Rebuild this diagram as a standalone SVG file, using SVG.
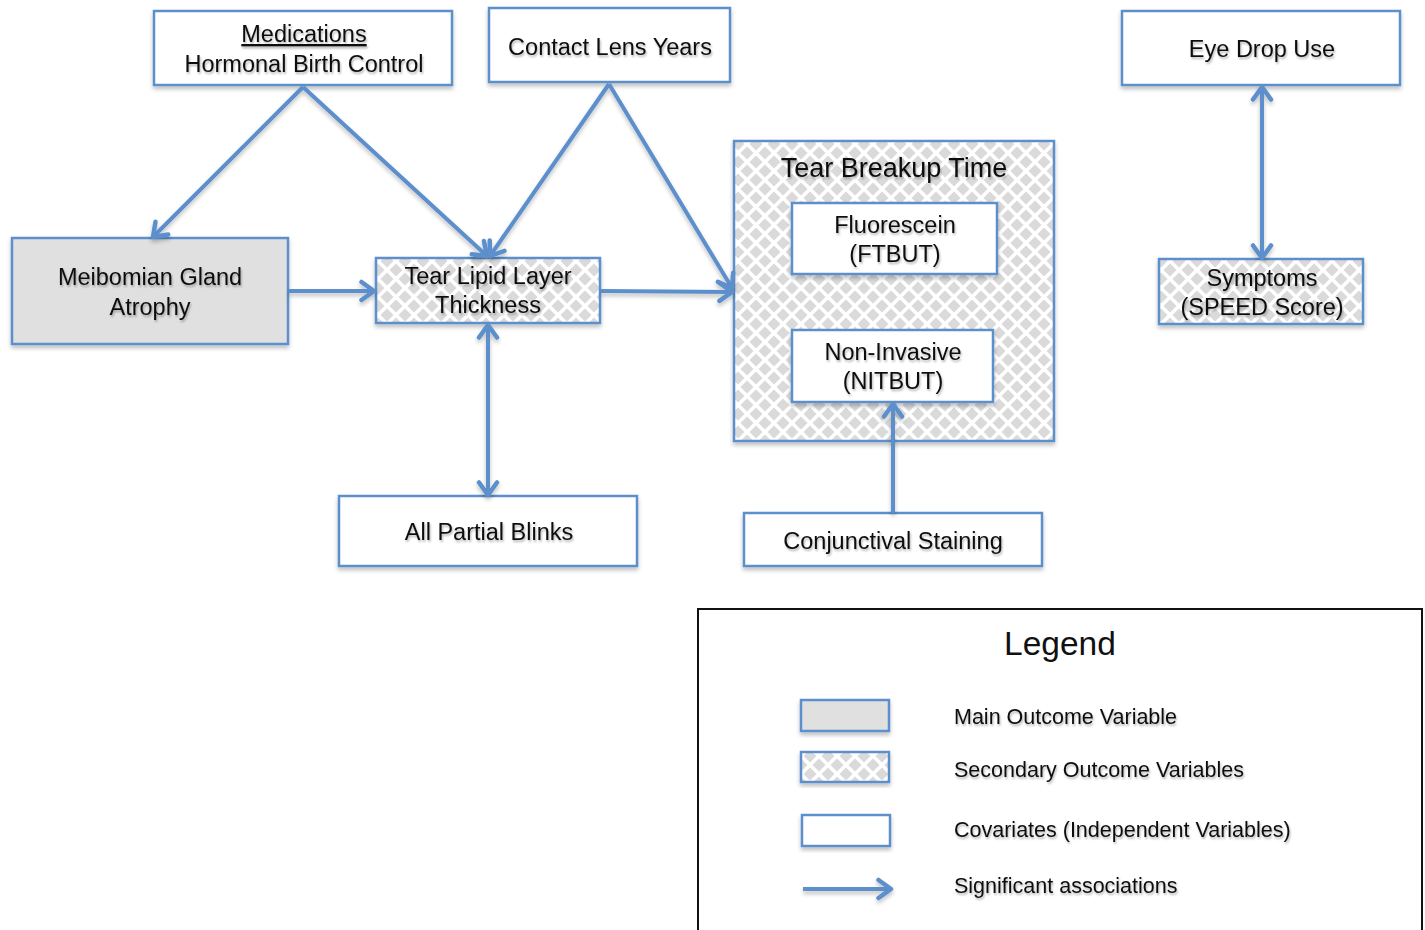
<svg xmlns="http://www.w3.org/2000/svg" width="1425" height="930" viewBox="0 0 1425 930">
<defs>
<pattern id="diam" x="0" y="0" width="18" height="18" patternUnits="userSpaceOnUse">
<rect width="18" height="18" fill="#ffffff"/>
<path d="M9,2.5 L15.5,9 L9,15.5 L2.5,9 Z" fill="#dadada"/>
<path d="M0,-6.5 L6.5,0 L0,6.5 L-6.5,0 Z M18,-6.5 L24.5,0 L18,6.5 L11.5,0 Z M0,11.5 L6.5,18 L0,24.5 L-6.5,18 Z M18,11.5 L24.5,18 L18,24.5 L11.5,18 Z" fill="#dadada"/>
</pattern>
<filter id="sh" x="-10%" y="-10%" width="120%" height="130%">
<feGaussianBlur in="SourceAlpha" stdDeviation="2"/>
<feOffset dx="0" dy="3" result="b"/>
<feComponentTransfer><feFuncA type="linear" slope="0.25"/></feComponentTransfer>
<feMerge><feMergeNode/><feMergeNode in="SourceGraphic"/></feMerge>
</filter>
<filter id="csh" filterUnits="userSpaceOnUse" x="0" y="0" width="1425" height="930">
<feGaussianBlur in="SourceAlpha" stdDeviation="2"/>
<feOffset dx="0" dy="3" result="b"/>
<feComponentTransfer><feFuncA type="linear" slope="0.25"/></feComponentTransfer>
<feMerge><feMergeNode/><feMergeNode in="SourceGraphic"/></feMerge>
</filter>
<filter id="tsh" x="-5%" y="-20%" width="110%" height="150%">
<feGaussianBlur in="SourceAlpha" stdDeviation="1.2"/>
<feOffset dx="1" dy="2" result="b"/>
<feComponentTransfer><feFuncA type="linear" slope="0.3"/></feComponentTransfer>
<feMerge><feMergeNode/><feMergeNode in="SourceGraphic"/></feMerge>
</filter>
<marker id="ah" viewBox="0 0 19 24" refX="16.5" refY="12" markerWidth="19" markerHeight="24" markerUnits="userSpaceOnUse" orient="auto-start-reverse">
<path d="M4,3 L16.5,12 L4,21" fill="none" stroke="#5b8fcb" stroke-width="4.5" stroke-linecap="round" stroke-linejoin="round"/>
</marker>
</defs>
<style>
.box{stroke:#5b8fcb;stroke-width:2.5;filter:url(#sh)}
.w{fill:#ffffff}
.g{fill:#e0e0e0}
.p{fill:url(#diam)}
.t{font-family:"Liberation Sans",Arial,sans-serif;font-size:23.5px;fill:#111;text-anchor:middle;filter:url(#tsh)}
.lt{font-family:"Liberation Sans",Arial,sans-serif;font-size:21.5px;fill:#111;filter:url(#tsh)}
.c{fill:none;stroke:#5b8fcb;stroke-width:4;marker-end:url(#ah)}
.d{marker-start:url(#ah)}
</style>
<rect width="1425" height="930" fill="#ffffff"/>

<g id="medications">
<rect class="box w" x="154" y="11" width="298" height="74"/>
<text class="t" x="304" y="42" text-decoration="underline">Medications</text>
<text class="t" x="304" y="72">Hormonal Birth Control</text>
</g>
<g id="contact-lens">
<rect class="box w" x="489" y="8" width="241" height="74"/>
<text class="t" x="610" y="55">Contact Lens Years</text>
</g>
<g id="eye-drop">
<rect class="box w" x="1122" y="11" width="278" height="74"/>
<text class="t" x="1262" y="57">Eye Drop Use</text>
</g>
<g id="tear-breakup">
<rect class="box p" x="734" y="141" width="320" height="300"/>
<text class="t" x="894" y="177" style="font-size:27px">Tear Breakup Time</text>
</g>
<g id="fluorescein">
<rect class="box w" x="792" y="203" width="205" height="71"/>
<text class="t" x="895" y="233">Fluorescein</text>
<text class="t" x="895" y="262">(FTBUT)</text>
</g>
<g id="non-invasive">
<rect class="box w" x="792" y="330" width="201" height="72"/>
<text class="t" x="893" y="360">Non-Invasive</text>
<text class="t" x="893" y="389">(NITBUT)</text>
</g>
<g id="meibomian">
<rect class="box g" x="12" y="238" width="276" height="106"/>
<text class="t" x="150" y="285">Meibomian Gland</text>
<text class="t" x="150" y="315">Atrophy</text>
</g>
<g id="tear-lipid">
<rect class="box p" x="376" y="258" width="224" height="65"/>
<text class="t" x="488" y="284">Tear Lipid Layer</text>
<text class="t" x="488" y="313">Thickness</text>
</g>
<g id="symptoms">
<rect class="box p" x="1159" y="259" width="204" height="65"/>
<text class="t" x="1262" y="286">Symptoms</text>
<text class="t" x="1262" y="315">(SPEED Score)</text>
</g>
<g id="partial-blinks">
<rect class="box w" x="339" y="496" width="298" height="70"/>
<text class="t" x="489" y="540">All Partial Blinks</text>
</g>
<g id="conjunctival">
<rect class="box w" x="744" y="513" width="298" height="53"/>
<text class="t" x="893" y="549">Conjunctival Staining</text>
</g>

<g id="connectors" filter="url(#csh)">
<line class="c" x1="303" y1="87" x2="153" y2="237"/>
<line class="c" x1="303" y1="87" x2="487" y2="256"/>
<line class="c" x1="609" y1="84" x2="490" y2="256"/>
<line class="c" x1="609" y1="84" x2="732" y2="288"/>
<line class="c" x1="289" y1="291" x2="374" y2="291"/>
<line class="c" x1="601" y1="291" x2="732" y2="292"/>
<line class="c d" x1="488" y1="325" x2="488" y2="495"/>
<line class="c d" x1="1262" y1="87" x2="1262" y2="258"/>
<line class="c" x1="893" y1="513" x2="893" y2="404"/>
</g>

<g id="legend">
<rect x="698" y="609" width="724" height="330" fill="#ffffff" stroke="#111" stroke-width="2"/>
<text x="1060" y="655" style="font-family:'Liberation Sans',Arial,sans-serif;font-size:33.5px;fill:#111;text-anchor:middle">Legend</text>
<rect class="box g" x="801" y="700" width="88" height="31"/>
<rect class="box p" x="801" y="752" width="88" height="30"/>
<rect class="box w" x="802" y="815" width="88" height="31"/>
<line class="c" x1="803" y1="889" x2="891" y2="889" filter="url(#csh)"/>
<text class="lt" x="954" y="724">Main Outcome Variable</text>
<text class="lt" x="954" y="777">Secondary Outcome Variables</text>
<text class="lt" x="954" y="837">Covariates (Independent Variables)</text>
<text class="lt" x="954" y="893">Significant associations</text>
</g>
</svg>
